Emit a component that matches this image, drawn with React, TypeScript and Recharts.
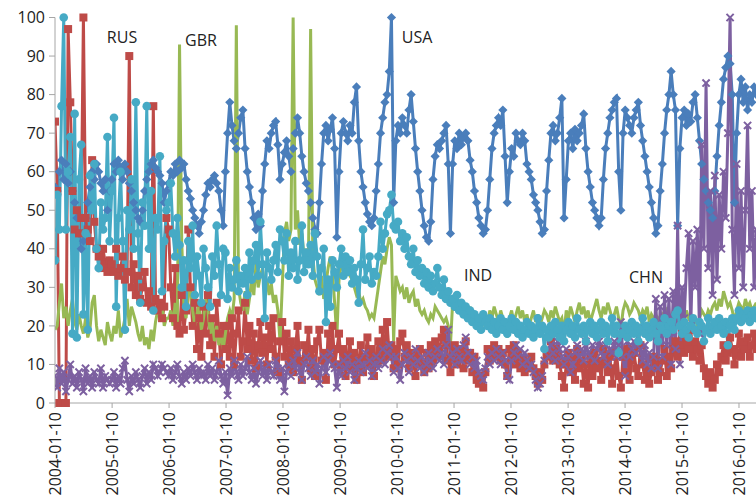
import React from 'react';
import { LineChart, Line, XAxis, YAxis } from 'recharts';

// Biweekly observations starting 2004-01-10 (one row per year, 26 values; 2016 partial)
const START_DATE = '2004-01-10';
const STEP_DAYS = 14;

const tickLabels = [
  '2004-01-10', '2005-01-10', '2006-01-10', '2007-01-10', '2008-01-10', '2009-01-10',
  '2010-01-10', '2011-01-10', '2012-01-10', '2013-01-10', '2014-01-10', '2015-01-10', '2016-01-10',
];
const yTicks = [0, 10, 20, 30, 40, 50, 60, 70, 80, 90, 100];
const X_END_DATE = '2016-04-28';

const usa = [
  56, 55, 60, 63, 58, 62, 57, 60, 55, 52, 48, 44, 40, 42, 48, 52, 56, 60, 58, 62, 60, 57, 55, 58, 50, 55,
  58, 62, 60, 63, 61, 58, 62, 60, 57, 55, 52, 50, 48, 47, 50, 55, 58, 60, 62, 63, 61, 60, 59, 57, 52, 55,
  57, 60, 59, 62, 60, 63, 61, 62, 58, 55, 53, 50, 48, 46, 44, 47, 50, 54, 57, 56, 58, 59, 57, 55, 50, 46,
  60, 70, 78, 72, 68, 66, 70, 74, 76, 66, 60, 56, 52, 48, 45, 49, 46, 55, 62, 68, 66, 70, 72, 73, 67, 58,
  62, 65, 68, 64, 60, 66, 70, 74, 70, 64, 60, 57, 55, 52, 48, 45, 44, 52, 62, 70, 72, 68, 71, 74, 66, 43,
  60, 70, 73, 70, 68, 72, 70, 78, 82, 68, 60, 56, 52, 49, 47, 46, 48, 55, 62, 70, 74, 78, 80, 86, 100, 52,
  68, 72, 70, 74, 72, 70, 76, 80, 73, 66, 60, 55, 50, 46, 43, 42, 47, 58, 64, 67, 66, 68, 70, 72, 62, 44,
  62, 68, 66, 70, 67, 69, 70, 68, 63, 60, 55, 52, 48, 46, 44, 45, 50, 58, 66, 70, 72, 74, 72, 76, 64, 52,
  60, 66, 64, 70, 68, 67, 70, 68, 62, 60, 58, 54, 52, 50, 47, 44, 45, 55, 63, 70, 72, 68, 70, 74, 79, 48,
  58, 68, 70, 66, 71, 68, 70, 72, 75, 66, 60, 56, 52, 50, 48, 46, 48, 58, 66, 70, 74, 76, 78, 79, 60, 50,
  70, 76, 74, 72, 70, 74, 76, 78, 72, 68, 64, 60, 56, 52, 48, 44, 46, 55, 62, 70, 76, 80, 86, 80, 76, 46,
  66, 74, 76, 72, 75, 73, 78, 80, 74, 68, 62, 58, 55, 52, 50, 48, 55, 64, 72, 78, 84, 87, 90, 88, 80, 52,
  70, 80, 84, 78, 82, 76, 80, 78, 82, 80,
];

const rus = [
  73, 55, 0, 0, 0, 0, 97, 78, 55, 45, 50, 44, 48, 100, 48, 45, 42, 63, 47, 40, 38, 35, 40, 36, 34, 37,
  36, 34, 40, 33, 35, 38, 32, 34, 90, 30, 36, 28, 33, 27, 30, 34, 26, 29, 25, 77, 27, 24, 26, 22, 25, 48,
  45, 30, 22, 35, 20, 18, 28, 19, 24, 45, 30, 20, 26, 14, 22, 12, 25, 18, 28, 15, 22, 12, 26, 18, 10, 20,
  14, 20, 12, 22, 10, 18, 24, 12, 16, 26, 14, 20, 11, 18, 9, 15, 21, 13, 17, 10, 20, 14, 22, 12, 8, 16,
  21, 12, 18, 10, 16, 8, 14, 20, 11, 6, 15, 12, 19, 9, 14, 7, 16, 19, 11, 13, 6, 18, 12, 20, 10, 14,
  18, 10, 14, 7, 12, 16, 9, 13, 6, 11, 15, 8, 12, 17, 10, 14, 7, 12, 16, 11, 19, 13, 21, 12, 15, 9,
  14, 10, 16, 18, 12, 15, 9, 13, 11, 7, 12, 14, 10, 8, 13, 9, 15, 11, 16, 12, 14, 17, 19, 15, 11, 8,
  13, 15, 10, 12, 14, 9, 16, 11, 13, 8, 12, 6, 5, 7, 4, 8, 14, 11, 13, 15, 12, 14, 11, 13, 10, 7,
  14, 12, 15, 10, 13, 9, 11, 8, 10, 9, 12, 9, 7, 5, 8, 6, 10, 12, 13, 16, 11, 14, 12, 10, 7, 4,
  10, 13, 8, 12, 6, 14, 9, 11, 5, 10, 4, 12, 7, 13, 9, 11, 6, 14, 10, 8, 12, 5, 9, 13, 7, 4,
  12, 8, 14, 6, 11, 13, 9, 7, 15, 10, 6, 9, 5, 8, 12, 10, 6, 8, 11, 14, 7, 12, 9, 14, 16, 12,
  15, 18, 13, 17, 14, 19, 12, 16, 14, 11, 15, 9, 7, 5, 8, 4, 6, 10, 8, 12, 15, 11, 13, 17, 14, 10,
  13, 18, 12, 16, 14, 17, 12, 15, 18, 14,
];

const gbr = [
  19, 20, 26, 31, 22, 25, 20, 24, 27, 21, 19, 23, 20, 18, 22, 17, 19, 26, 28, 20, 16, 19, 17, 15, 21, 18,
  16, 20, 18, 24, 17, 19, 22, 27, 20, 25, 23, 21, 18, 16, 20, 15, 17, 14, 19, 16, 21, 24, 22, 26, 20, 22,
  22, 24, 20, 26, 21, 93, 42, 25, 22, 28, 30, 24, 20, 23, 26, 19, 22, 27, 24, 18, 21, 16, 20, 15, 18, 14,
  18, 22, 24, 22, 27, 98, 30, 26, 24, 29, 23, 27, 32, 28, 36, 30, 33, 35, 30, 32, 28, 31, 26, 28, 24, 16,
  30, 44, 47, 42, 45, 100, 45, 50, 41, 44, 38, 40, 36, 97, 38, 32, 30, 28, 33, 27, 31, 35, 38, 34, 26, 17,
  32, 36, 37, 34, 35, 33, 32, 30, 28, 29, 26, 27, 25, 24, 22, 23, 22, 26, 30, 34, 38, 36, 40, 43, 41, 16,
  33, 31, 29, 30, 27, 30, 26, 28, 29, 25, 27, 24, 23, 24, 22, 21, 23, 22, 25, 24, 23, 22, 21, 22, 20, 15,
  26, 24, 27, 25, 23, 26, 24, 22, 25, 21, 23, 20, 22, 19, 21, 23, 20, 24, 22, 25, 23, 21, 24, 22, 20, 17,
  22, 24, 21, 23, 25, 22, 24, 21, 23, 20, 22, 24, 21, 23, 20, 22, 24, 23, 21, 24, 22, 25, 23, 21, 22, 18,
  24, 22, 25, 23, 21, 24, 26, 23, 25, 22, 24, 21, 23, 25, 27, 24, 22, 25, 23, 26, 24, 22, 23, 25, 22, 19,
  24, 26, 25, 23, 24, 26, 25, 24, 22, 24, 23, 25, 21, 23, 22, 20, 22, 21, 23, 22, 24, 23, 22, 24, 23, 20,
  22, 23, 21, 24, 22, 23, 21, 22, 20, 22, 24, 23, 22, 24, 23, 25, 26, 24, 27, 25, 29, 27, 25, 26, 24, 21,
  24, 26, 25, 24, 27, 25, 26, 24, 25, 26,
];

const chn = [
  7, 4, 9, 5, 8, 3, 6, 10, 5, 7, 4, 8, 6, 3, 9, 5, 7, 4, 8, 6, 5, 9, 4, 7, 6, 5,
  6, 8, 4, 7, 5, 9, 11, 6, 3, 7, 5, 8, 6, 4, 7, 9, 5, 8, 6, 10, 9, 7, 8, 10, 9, 8,
  7, 9, 6, 8, 10, 7, 5, 8, 6, 9, 7, 10, 8, 6, 9, 7, 8, 6, 10, 7, 9, 6, 8, 11, 7, 5,
  8, 2, 9, 7, 11, 8, 6, 10, 7, 9, 12, 8, 6, 9, 5, 8, 11, 7, 9, 6, 10, 8, 7, 11, 9, 6,
  9, 3, 8, 10, 7, 11, 9, 13, 8, 6, 10, 12, 9, 7, 11, 8, 10, 5, 9, 12, 8, 11, 13, 10, 9, 4,
  10, 7, 11, 9, 12, 8, 10, 6, 9, 11, 8, 10, 13, 9, 11, 7, 10, 12, 9, 11, 14, 10, 13, 15, 12, 8,
  12, 9, 6, 10, 13, 11, 8, 12, 10, 14, 11, 9, 12, 8, 10, 13, 11, 9, 12, 14, 11, 13, 10, 15, 19, 12,
  13, 10, 14, 12, 11, 15, 17, 13, 10, 12, 9, 11, 8, 7, 6, 9, 12, 10, 13, 11, 14, 12, 10, 13, 11, 7,
  6, 11, 13, 15, 12, 14, 10, 13, 11, 9, 10, 8, 6, 4, 5, 7, 11, 14, 12, 15, 13, 11, 16, 14, 12, 10,
  14, 12, 8, 10, 13, 15, 12, 14, 11, 16, 13, 12, 15, 11, 14, 16, 13, 12, 15, 10, 14, 13, 16, 12, 15, 21,
  12, 7, 16, 12, 14, 16, 13, 19, 14, 11, 15, 10, 13, 9, 12, 27, 9, 25, 12, 28, 15, 27, 10, 29, 14, 46,
  10, 30, 22, 35, 44, 20, 42, 30, 45, 18, 67, 40, 83, 35, 55, 28, 59, 32, 54, 40, 60, 48, 70, 100, 45, 28,
  62, 35, 55, 30, 50, 72, 40, 55, 30, 45,
];

const ind = [
  37, 54, 45, 77, 100, 45, 60, 69, 18, 75, 17, 58, 67, 23, 44, 19, 59, 50, 62, 40, 35, 52, 45, 48, 69, 42,
  55, 74, 25, 48, 60, 42, 19, 50, 45, 58, 40, 78, 44, 26, 52, 46, 77, 40, 55, 24, 48, 45, 64, 29, 42, 50,
  52, 57, 44, 38, 48, 41, 30, 37, 25, 42, 35, 46, 28, 38, 33, 26, 40, 35, 30, 25, 38, 33, 46, 36, 28, 40,
  39, 27, 35, 30, 32, 37, 29, 33, 31, 35, 28, 39, 32, 37, 41, 33, 47, 36, 22, 39, 35, 32, 37, 41, 34, 45,
  42, 37, 44, 33, 39, 35, 42, 32, 37, 46, 34, 39, 36, 41, 33, 44, 38, 29, 35, 40, 21, 32, 25, 37, 34, 30,
  36, 40, 33, 38, 34, 37, 31, 35, 32, 26, 36, 45, 32, 35, 38, 31, 34, 33, 38, 47, 40, 44, 49, 50, 54, 46,
  45, 47, 42, 44, 40, 43, 38, 36, 40, 34, 37, 33, 35, 31, 34, 30, 33, 29, 31, 35, 30, 28, 32, 27, 29, 26,
  27, 25, 28, 24, 26, 23, 25, 22, 24, 21, 23, 20, 22, 19, 23, 21, 20, 22, 19, 21, 18, 20, 22, 19, 21, 18,
  20, 22, 19, 21, 18, 20, 17, 19, 21, 18, 20, 17, 19, 22, 18, 20, 14, 19, 17, 20, 18, 21, 19, 17, 20, 16,
  19, 21, 18, 20, 17, 22, 19, 18, 20, 16, 19, 21, 18, 20, 17, 19, 21, 18, 20, 16, 19, 22, 18, 20, 13, 18,
  18, 20, 17, 19, 21, 18, 20, 16, 19, 22, 18, 20, 17, 19, 21, 18, 16, 20, 19, 22, 18, 20, 21, 19, 23, 24,
  20, 18, 21, 19, 17, 20, 22, 19, 18, 21, 20, 16, 19, 22, 18, 20, 21, 19, 22, 20, 18, 21, 15, 20, 22, 19,
  22, 24, 21, 23, 22, 24, 21, 23, 24, 22,
];

const seriesLabels = [
  { text: 'RUS', x: 122, y: 37 },
  { text: 'GBR', x: 201, y: 40 },
  { text: 'USA', x: 417, y: 37 },
  { text: 'IND', x: 478, y: 275 },
  { text: 'CHN', x: 646, y: 277 },
];

const BLUE = '#4a7ebb';
const RED = '#be4b48';
const GREEN = '#98b954';
const PURPLE = '#7d60a0';
const CYAN = '#46aac5';
const FONT = '"Open Sans", "Noto Sans", sans-serif';
const LINE_W = 3;

const DAY = 86400000;
const parse = (s: string) => Date.parse(s + 'T00:00:00Z');
const t0 = parse(START_DATE);
const data = usa.map((_, i) => ({
  t: t0 + i * STEP_DAYS * DAY,
  usa: usa[i],
  rus: rus[i],
  gbr: gbr[i],
  chn: chn[i],
  ind: ind[i],
}));
const xTicks = tickLabels.map(parse);
const tickText: Record<number, string> = {};
tickLabels.forEach((s) => { tickText[parse(s)] = s; });

const diamond = (p: any) => {
  const { cx, cy, index } = p;
  if (cx == null || cy == null) return <g key={`u${index}`} />;
  const r = 4.6;
  return <path key={`u${index}`} d={`M${cx},${cy - r}L${cx + r},${cy}L${cx},${cy + r}L${cx - r},${cy}Z`} fill={BLUE} />;
};
const square = (p: any) => {
  const { cx, cy, index } = p;
  if (cx == null || cy == null) return <g key={`r${index}`} />;
  const h = 4;
  return <rect key={`r${index}`} x={cx - h} y={cy - h} width={2 * h} height={2 * h} fill={RED} />;
};
const circle = (p: any) => {
  const { cx, cy, index } = p;
  if (cx == null || cy == null) return <g key={`i${index}`} />;
  return <circle key={`i${index}`} cx={cx} cy={cy} r={4.3} fill={CYAN} />;
};
const cross = (p: any) => {
  const { cx, cy, index } = p;
  if (cx == null || cy == null) return <g key={`c${index}`} />;
  const h = 3.6;
  return (
    <path key={`c${index}`} d={`M${cx - h},${cy - h}L${cx + h},${cy + h}M${cx - h},${cy + h}L${cx + h},${cy - h}`}
      stroke={PURPLE} strokeWidth={2} fill="none" />
  );
};

const XTick = (p: any) => {
  const { x, y, payload } = p;
  return (
    <text x={x} y={y} transform={`rotate(-90, ${x}, ${y})`} textAnchor="end" dominantBaseline="central"
      fontSize={16} fontFamily={FONT} fill="#222">
      {tickText[payload.value] ?? ''}
    </text>
  );
};

export default function App() {
  return (
    <div style={{ position: 'absolute', left: 0, top: 0, width: 756, height: 504, overflow: 'hidden', background: '#fff' }}>
      <LineChart width={756} height={504} data={data} margin={{ top: 17.5, right: 0, bottom: 0, left: 0 }}>
        <XAxis
          dataKey="t"
          type="number"
          domain={[t0, parse(X_END_DATE)]}
          allowDataOverflow
          ticks={xTicks}
          interval={0}
          height={101}
          tick={<XTick />}
          tickSize={5}
          tickMargin={4}
          stroke="#a6a6a6"
          tickLine={{ stroke: '#a6a6a6' }}
        />
        <YAxis
          type="number"
          domain={[0, 100]}
          ticks={yTicks}
          interval={0}
          width={55}
          tickSize={6}
          tickMargin={4}
          stroke="#a6a6a6"
          tick={{ fontSize: 16, fontFamily: FONT, fill: '#222' }}
        />
        <Line dataKey="usa" stroke={BLUE} strokeWidth={LINE_W} dot={diamond} activeDot={false} isAnimationActive={false} />
        <Line dataKey="rus" stroke={RED} strokeWidth={LINE_W} dot={square} activeDot={false} isAnimationActive={false} />
        <Line dataKey="gbr" stroke={GREEN} strokeWidth={LINE_W} dot={false} activeDot={false} isAnimationActive={false} />
        <Line dataKey="chn" stroke={PURPLE} strokeWidth={LINE_W} dot={cross} activeDot={false} isAnimationActive={false} />
        <Line dataKey="ind" stroke={CYAN} strokeWidth={LINE_W} dot={circle} activeDot={false} isAnimationActive={false} />
      </LineChart>
      <svg width={756} height={504} style={{ position: 'absolute', left: 0, top: 0, pointerEvents: 'none' }}>
        {seriesLabels.map((l) => (
          <text key={l.text} x={l.x} y={l.y} textAnchor="middle" dominantBaseline="central"
            fontSize={16} fontFamily={FONT} fill="#222">
            {l.text}
          </text>
        ))}
      </svg>
    </div>
  );
}
